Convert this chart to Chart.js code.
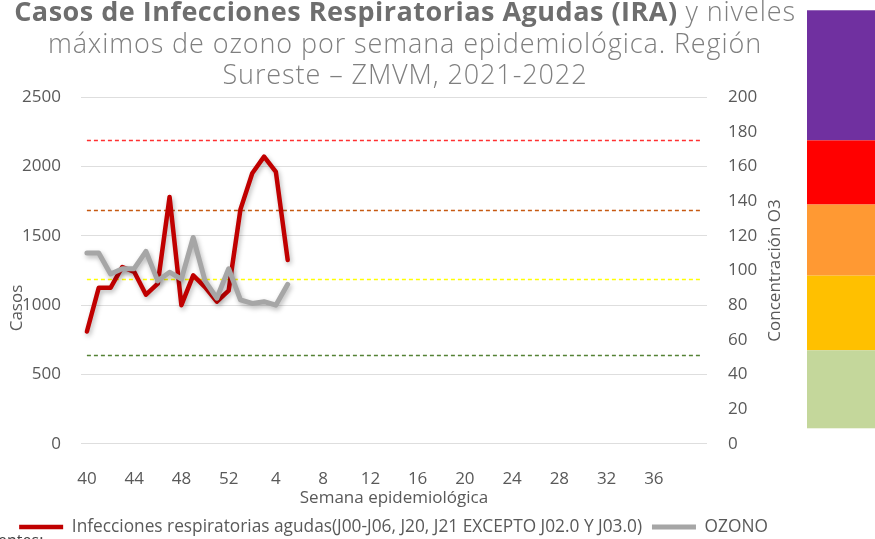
<!DOCTYPE html>
<html lang="es">
<head>
<meta charset="utf-8">
<script src="https://cdn.jsdelivr.net/npm/chart.js@4.4.1/dist/chart.umd.min.js"></script>
<style>
  body { margin: 0; width: 875px; height: 539px; overflow: hidden; background: #fff; position: relative; font-family: "Open Sans", sans-serif; }
  #wrap { position: absolute; left: 0; top: 0; width: 875px; height: 539px; }
  #titulo { position: absolute; left: 5px; width: 800px; top: -5px; text-align: center; color: #7f7f7f; font-size: 27px; line-height: 31.5px; font-weight: 300; letter-spacing: 0.9px; }
  #titulo b { font-weight: 700; color: #6e6e6e; letter-spacing: 0.5px; }
  #fuente { position: absolute; left: -20px; top: 529px; font-size: 16px; color: #404040; }
</style>
</head>
<body>
<div id="wrap"><canvas id="grafica"></canvas></div>
<div id="titulo">
  <div><b>Casos de Infecciones Respiratorias Agudas (IRA)</b> y niveles</div>
  <div>máximos de ozono por semana epidemiológica. Región</div>
  <div>Sureste – ZMVM, 2021-2022</div>
</div>
<div id="fuente">Fuentes:</div>
<script>
// semanas epidemiológicas 40-52 de 2021 y 1-40 de 2022
var semanas = ["40","41","42","43","44","45","46","47","48","49","50","51","52",
  "1","2","3","4","5","6","7","8","9","10","11","12","13","14","15","16","17","18","19","20",
  "21","22","23","24","25","26","27","28","29","30","31","32","33","34","35","36","37","38","39","40"];

// casos de IRA (eje izquierdo)
var casos = [810, 1125, 1125, 1275, 1240, 1075, 1155, 1780, 1000, 1215, 1130, 1025, 1105, 1690, 1950, 2070, 1960, 1325];

// ozono máximo semanal en ppb (eje derecho)
var ozono = [110, 110, 98, 101, 101, 111, 94, 99, 95, 119, 94, 84, 101, 83, 81, 82, 80, 92];

// límites de calidad del aire para ozono (líneas punteadas)
var limites = [175, 135, 95, 51];
var coloresLimite = ["#ff3030", "#c65911", "#ffff00", "#548235"];

// barra de colores del índice de calidad del aire
var bandas = [250, 175, 138, 97, 54, 9];
var coloresBanda = ["#7030a0", "#ff0000", "#ff9933", "#ffc000", "#c4d79b"];

var gris = "#595959";
var fuenteEjes = { family: "Open Sans", size: 17 };

var extras = {
    id: "extras",
    beforeDatasetsDraw: function(chart) {
        var ctx = chart.ctx, x = chart.scales.x, y1 = chart.scales.y1;
        var x0 = x.getPixelForValue(0), x1 = x.getPixelForValue(semanas.length - 1);
        ctx.save();
        ctx.lineWidth = 1.5;
        ctx.setLineDash([4, 3]);
        for (var i = 0; i < limites.length; i++) {
            var py = Math.round(y1.getPixelForValue(limites[i])) + 0.5;
            ctx.strokeStyle = coloresLimite[i];
            ctx.beginPath();
            ctx.moveTo(x0, py);
            ctx.lineTo(x1, py);
            ctx.stroke();
        }
        ctx.restore();
    },
    beforeDatasetDraw: function(chart) {
        var ctx = chart.ctx;
        ctx.save();
        ctx.shadowColor = "rgba(0,0,0,0.28)";
        ctx.shadowBlur = 5;
        ctx.shadowOffsetX = 1.5;
        ctx.shadowOffsetY = 2.5;
    },
    afterDatasetDraw: function(chart) {
        chart.ctx.restore();
    },
    afterDraw: function(chart) {
        var ctx = chart.ctx, y1 = chart.scales.y1, area = chart.chartArea;
        ctx.save();
        // barra de colores
        for (var i = 0; i < coloresBanda.length; i++) {
            var top = y1.getPixelForValue(bandas[i]);
            var bot = y1.getPixelForValue(bandas[i + 1]);
            ctx.fillStyle = coloresBanda[i];
            ctx.fillRect(807, top, 68, bot - top);
        }
        // títulos de los ejes verticales
        ctx.fillStyle = gris;
        ctx.font = "17px 'Open Sans'";
        ctx.textAlign = "center";
        ctx.textBaseline = "middle";
        ctx.translate(775, (area.top + area.bottom) / 2);
        ctx.rotate(-Math.PI / 2);
        ctx.fillText("Concentración O3", 0, 0);
        ctx.setTransform(1, 0, 0, 1, 0, 0);
        ctx.translate(17, 308);
        ctx.rotate(-Math.PI / 2);
        ctx.fillText("Casos", 0, 0);
        ctx.restore();
    }
};

function sinSeparador(value) {
    return String(value);
}

new Chart(document.getElementById("grafica"), {
    type: "line",
    data: {
        labels: semanas,
        datasets: [
            {
                label: "Infecciones respiratorias agudas(J00-J06, J20, J21 EXCEPTO J02.0 Y J03.0)",
                data: casos,
                yAxisID: "y",
                borderColor: "#c00000",
                backgroundColor: "#c00000",
                borderWidth: 4.5,
                pointRadius: 0,
                pointStyle: "line",
                tension: 0,
                borderJoinStyle: "round",
                borderCapStyle: "round",
                order: 2
            },
            {
                label: "OZONO",
                data: ozono,
                yAxisID: "y1",
                borderColor: "#a6a6a6",
                backgroundColor: "#a6a6a6",
                borderWidth: 5,
                pointRadius: 0,
                pointStyle: "line",
                tension: 0,
                borderJoinStyle: "round",
                borderCapStyle: "round",
                order: 1
            }
        ]
    },
    options: {
        responsive: true,
        maintainAspectRatio: false,
        animation: false,
        devicePixelRatio: 1,
        layout: { padding: { top: 97, left: 0, right: 88, bottom: -6.6 } },
        plugins: {
            title: { display: false },
            tooltip: { enabled: false },
            legend: {
                position: "bottom",
                labels: {
                    usePointStyle: true,
                    pointStyleWidth: 44,
                    padding: 10,
                    color: gris,
                    font: { family: "Open Sans", size: 17.3 },
                    sort: function(a, b) { return a.datasetIndex - b.datasetIndex; }
                }
            }
        },
        scales: {
            x: {
                type: "category",
                offset: true,
                grid: { display: false },
                border: { display: false },
                ticks: {
                    autoSkip: false,
                    maxRotation: 0,
                    padding: 17,
                    color: gris,
                    font: fuenteEjes,
                    callback: function(value, index) {
                        return (index % 4 === 0 && index < semanas.length - 1) ? this.getLabelForValue(value) : "";
                    }
                },
                title: {
                    display: true,
                    text: "Semana epidemiológica",
                    color: gris,
                    font: fuenteEjes,
                    padding: { top: 0, bottom: 0 }
                },
                afterFit: function(scale) { scale.height = 64.4; }
            },
            y: {
                position: "left",
                min: 0,
                max: 2500,
                ticks: { stepSize: 500, padding: 20, color: gris, font: fuenteEjes, callback: sinSeparador },
                grid: { color: "#dedede", lineWidth: 1, drawTicks: false },
                border: { display: false },
                afterFit: function(scale) { scale.width = 81; }
            },
            y1: {
                position: "right",
                min: 0,
                max: 200,
                ticks: { stepSize: 20, padding: 21, color: gris, font: fuenteEjes, callback: sinSeparador },
                grid: { display: false, drawTicks: false },
                border: { display: false },
                afterFit: function(scale) { scale.width = 80; }
            }
        }
    },
    plugins: [extras]
});
</script>
</body>
</html>
